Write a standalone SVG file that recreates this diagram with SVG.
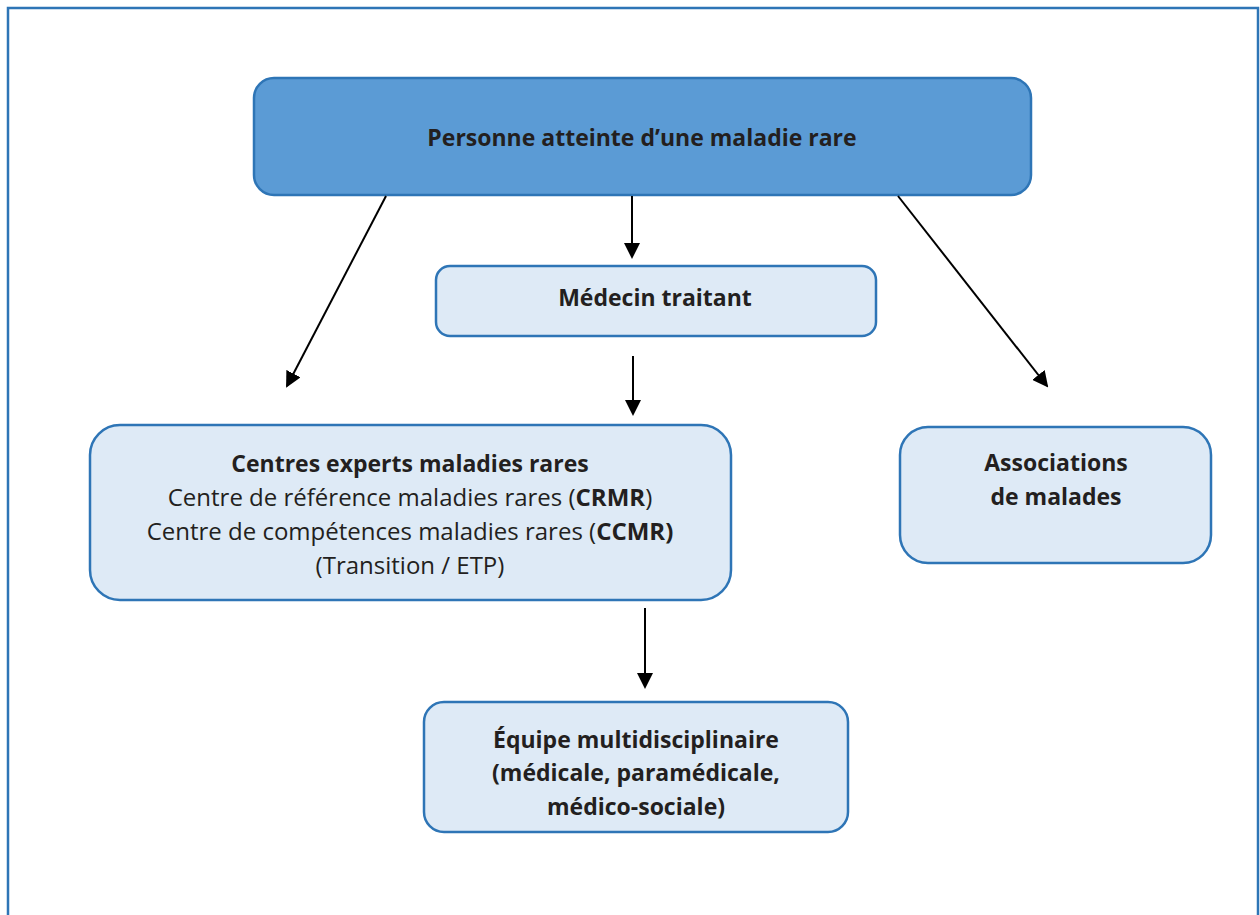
<svg xmlns="http://www.w3.org/2000/svg" width="1260" height="915" viewBox="0 0 1260 915">
<style>
.box{fill:#DEEAF6;stroke:#2E75B6;stroke-width:2.5}
.top{fill:#5B9BD5;stroke:#2E75B6;stroke-width:2.5}
.t{font-family:"Open Sans","Liberation Sans",sans-serif;font-size:23px;fill:#231F20;text-anchor:middle}
.r{font-size:24px}
.b{font-weight:bold}
.c line{stroke:#000;stroke-width:2;marker-end:url(#ah)}
</style>
<defs>
<marker id="ah" markerWidth="8" markerHeight="8" refX="7" refY="4" orient="auto" markerUnits="strokeWidth">
<path d="M0,0 L8,4 L0,8 z" fill="#000"/>
</marker>
</defs>
<rect x="8" y="8" width="1250" height="920" fill="#fff" stroke="#2E75B6" stroke-width="2.5"/>
<g id="n-personne">
<rect class="top" x="254" y="78" width="777" height="117" rx="20"/>
<text class="t b" x="642" y="146">Personne atteinte d’une maladie rare</text>
</g>
<g id="n-medecin">
<rect class="box" x="436" y="266" width="440" height="70" rx="14"/>
<text class="t b" x="655" y="306">Médecin traitant</text>
</g>
<g id="n-centres">
<rect class="box" x="90" y="425" width="641" height="175" rx="30"/>
<text class="t b" x="410" y="472">Centres experts maladies rares</text>
<text class="t r" x="410" y="506">Centre de référence maladies rares (<tspan class="b">CRMR</tspan>)</text>
<text class="t r" x="410" y="540">Centre de compétences maladies rares (<tspan class="b">CCMR)</tspan></text>
<text class="t r" x="410" y="574">(Transition / ETP)</text>
</g>
<g id="n-assoc">
<rect class="box" x="900" y="427" width="311" height="136" rx="28"/>
<text class="t b" x="1056" y="471">Associations</text>
<text class="t b" x="1056" y="505">de malades</text>
</g>
<g id="n-equipe">
<rect class="box" x="424" y="702" width="424" height="130" rx="20"/>
<text class="t b" x="636" y="748">Équipe multidisciplinaire</text>
<text class="t b" x="636" y="781">(médicale, paramédicale,</text>
<text class="t b" x="636" y="815">médico-sociale)</text>
</g>
<g class="c" id="connectors">
<line x1="386" y1="196" x2="287" y2="386"/>
<line x1="632" y1="196" x2="632" y2="257"/>
<line x1="633" y1="356" x2="633" y2="414"/>
<line x1="898" y1="196" x2="1047" y2="386"/>
<line x1="645" y1="608" x2="645" y2="687"/>
</g>
</svg>
